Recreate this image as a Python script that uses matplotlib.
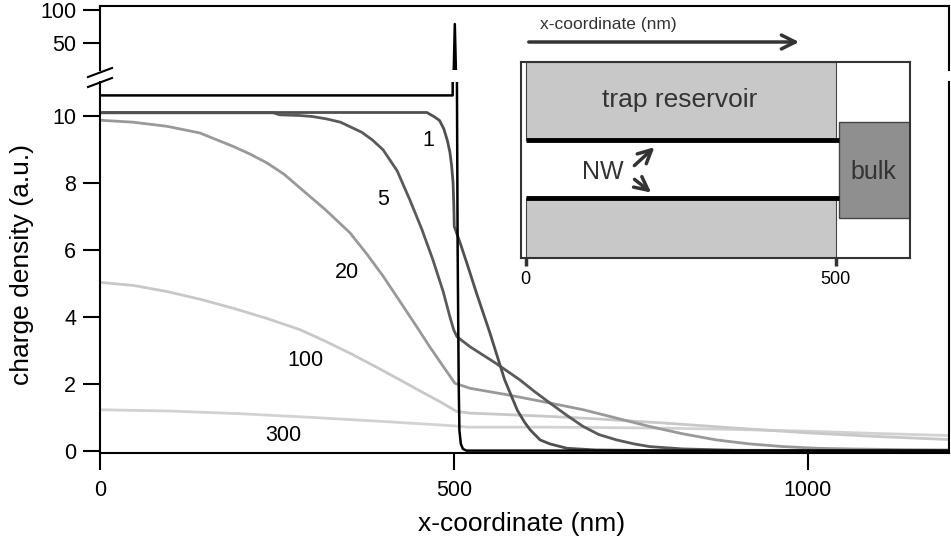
import numpy as np
import matplotlib
matplotlib.use("Agg")
import matplotlib.pyplot as plt
from matplotlib.patches import Rectangle
from matplotlib.lines import Line2D

plt.rcParams['font.family'] = ['Liberation Sans', 'DejaVu Sans']

# datos de las curvas (x en nm, densidad en u.a.)
x0 = [0, 498.5, 501.5, 504.5, 505.5, 507, 508, 510, 513, 518, 1200]
y0 = [10.6, 10.6, 75, 11, 6, 2, 0.6, 0.2, 0.05, 0, 0]

x1 = [0, 462, 466, 472, 480, 486, 491, 494.6, 497, 499, 500, 500.7, 509, 520, 532, 551, 572,
      590, 600, 608, 622, 636, 660, 700, 800, 1200]
y1 = [10.09, 10.09, 10.04, 9.97, 9.85, 9.6, 9.25, 8.9, 8.5, 8.0, 7.4, 6.69, 6.2, 5.5, 4.71, 3.52, 2.11,
      1.2, 0.85, 0.62, 0.32, 0.2, 0.07, 0.02, 0.0, 0.0]

x5 = [0, 245, 254, 282.6, 300, 320, 340, 370, 385, 400, 420, 438, 455, 470.6, 485, 494.6, 500, 504.5,
      523, 560, 593.5, 615, 636, 660, 683, 705, 730, 755, 777, 824, 900, 1200]
y5 = [10.08, 10.08, 10.02, 10.0, 9.97, 9.9, 9.8, 9.5, 9.27, 8.98, 8.35, 7.48, 6.6, 5.69, 4.75, 3.99, 3.6, 3.40,
      3.10, 2.6, 2.11, 1.75, 1.42, 1.05, 0.72, 0.48, 0.32, 0.2, 0.12, 0.05, 0.01, 0.0]

x20 = [0, 47, 94, 141, 188, 212, 235.6, 260, 282.6, 318, 353.3, 377, 400.4, 424, 447.6, 466, 485.2, 501.7,
       523, 580, 636, 683, 730, 777, 824, 871, 918, 966, 1013, 1060, 1130, 1200]
y20 = [9.86, 9.8, 9.68, 9.48, 9.08, 8.85, 8.59, 8.25, 7.84, 7.2, 6.50, 5.87, 5.20, 4.45, 3.70, 3.1, 2.51, 2.01,
       1.86, 1.65, 1.42, 1.22, 0.97, 0.72, 0.5, 0.32, 0.2, 0.12, 0.07, 0.05, 0.03, 0.02]

x100 = [0, 47, 94, 141, 188, 235, 282.6, 318, 353, 390, 424, 455, 480.5, 504, 523, 580, 636, 700,
        800, 900, 1000, 1100, 1200]
y100 = [5.02, 4.93, 4.75, 4.52, 4.25, 3.95, 3.61, 3.27, 2.91, 2.5, 2.11, 1.75, 1.46, 1.17, 1.12, 1.07, 1.02, 0.95,
        0.82, 0.67, 0.53, 0.42, 0.33]

x300 = [0, 100, 200, 300, 400, 500, 520, 636, 700, 800, 900, 1000, 1100, 1200]
y300 = [1.22, 1.18, 1.10, 0.99, 0.87, 0.74, 0.70, 0.70, 0.69, 0.67, 0.63, 0.58, 0.51, 0.45]

curvas = [(x300, y300, '#d2d2d2', '300'), (x100, y100, '#c8c8c8', '100'),
          (x20, y20, '#999999', '20'), (x5, y5, '#5a5a5a', '5'),
          (x1, y1, '#505050', '1'), (x0, y0, '#000000', '0')]

# posiciones de las etiquetas de cada curva
etiquetas = {'0': (531, 11.73), '1': (463.5, 9.25), '5': (400, 7.49),
             '20': (349, 5.31), '100': (290, 2.69), '300': (258.6, 0.44)}

W, H = 951, 542
fig = plt.figure(figsize=(W / 100, H / 100), dpi=100)


def caja(x_izq, y_arriba, x_der, y_abajo):
    # pasa pixeles a fracciones de figura
    return [x_izq / W, 1 - y_abajo / H, (x_der - x_izq) / W, (y_abajo - y_arriba) / H]


ax = fig.add_axes(caja(100, 82, 949, 453.3))
ax_top = fig.add_axes(caja(100, 6, 949, 70), sharex=ax)

for a in (ax, ax_top):
    for xs, ys, c, lab in curvas:
        a.plot(xs, ys, color=c, lw=2.0 if lab != '0' else 1.8, solid_joinstyle='round')
    for s in a.spines.values():
        s.set_linewidth(1.5)
    a.tick_params(length=12.2, width=1.5, labelsize=15.5)

ax.set_xlim(0, 1200)
ax.set_ylim(-0.08, 11.0)
ax.set_xticks([0, 500, 1000])
ax.set_yticks([0, 2, 4, 6, 8, 10])
ax.spines['top'].set_visible(False)
ax.tick_params(axis='x', pad=7)
ax.tick_params(axis='y', pad=5)

ax_top.set_yscale('log')
ax_top.set_ylim(28.3, 110)
ax_top.set_yticks([50, 100])
ax_top.set_yticklabels(['50', '100'])
ax_top.yaxis.set_minor_locator(matplotlib.ticker.NullLocator())
ax_top.spines['bottom'].set_visible(False)
ax_top.tick_params(axis='x', bottom=False, labelbottom=False)
ax_top.tick_params(axis='y', pad=5)

for lab, (tx, ty) in etiquetas.items():
    ax.text(tx, ty, lab, fontsize=15.5, ha='center', va='center', clip_on=False)

fig.text(22 / W, 1 - 265 / H, 'charge density (a.u.)', rotation=90,
         ha='center', va='center', fontsize=19)
fig.text(522 / W, 1 - 524 / H, 'x-coordinate (nm)', ha='center', va='center', fontsize=19)

# marcas de eje cortado
for y1p, y2p in [(77, 68), (87, 78)]:
    fig.add_artist(Line2D([88 / W, 112 / W], [1 - y1p / H, 1 - y2p / H], color='black', lw=1.5))

# esquema insertado
gris_osc = '#333333'
ax_in = fig.add_axes(caja(521, 62, 910, 258))
ax_in.set_xlim(-7.6, 620)
ax_in.set_ylim(0, 1)
ax_in.set_yticks([])
ax_in.set_xticks([0, 500])
ax_in.tick_params(axis='x', length=6, width=2.5, color=gris_osc, labelsize=13, pad=3)
for s in ax_in.spines.values():
    s.set_color(gris_osc)
    s.set_linewidth(1.5)

ax_in.add_patch(Rectangle((0, 0.602), 500, 0.398, fc='#c8c8c8', ec='#444444', lw=0.8))
ax_in.add_patch(Rectangle((0, 0.0), 500, 0.3077, fc='#c8c8c8', ec='#444444', lw=0.8))
ax_in.add_patch(Rectangle((505, 0.204), 115, 0.491, fc='#8f8f8f', ec='#444444', lw=1.0))
ax_in.plot([0, 505], [0.602, 0.602], color='black', lw=3.5, solid_capstyle='butt')
ax_in.plot([0, 505], [0.3077, 0.3077], color='black', lw=3.5, solid_capstyle='butt')

ax_in.text(249, 0.806, 'trap reservoir', fontsize=19, color=gris_osc, ha='center', va='center')
ax_in.text(124.6, 0.439, 'NW', fontsize=18, color=gris_osc, ha='center', va='center')
ax_in.text(560.5, 0.439, 'bulk', fontsize=18, color=gris_osc, ha='center', va='center')
ax_in.annotate('', xy=(211, 0.575), xytext=(172, 0.462),
               arrowprops=dict(arrowstyle='->', color=gris_osc, lw=2.5, mutation_scale=24))
ax_in.annotate('', xy=(206, 0.325), xytext=(172, 0.41),
               arrowprops=dict(arrowstyle='->', color=gris_osc, lw=2.5, mutation_scale=24))

ax_in.annotate('', xy=(445.6, 1.102), xytext=(0.5, 1.102), annotation_clip=False,
               arrowprops=dict(arrowstyle='->', color=gris_osc, lw=2.5, mutation_scale=25))
ax_in.text(132.7, 1.189, 'x-coordinate (nm)', fontsize=12.5, color=gris_osc,
           ha='center', va='center', clip_on=False)

fig.savefig('out.png', dpi=100)
